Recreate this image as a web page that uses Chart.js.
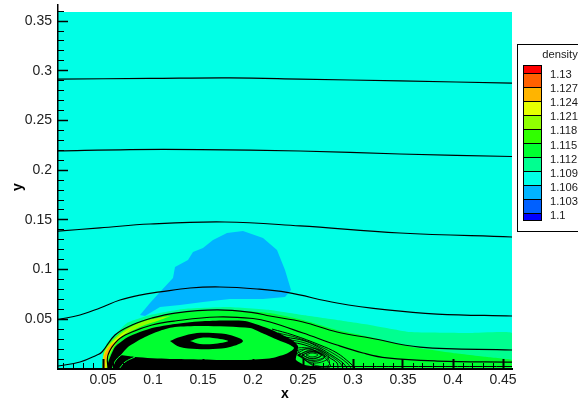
<!DOCTYPE html>
<html><head><meta charset="utf-8"><style>html,body{margin:0;padding:0;background:#fff}canvas{display:block}</style>
<script src="https://cdn.jsdelivr.net/npm/chart.js@4"></script></head><body><canvas id="c" width="578" height="403"></canvas>
<script>
const xTickValues=[0.05,0.1,0.15,0.2,0.25,0.3,0.35,0.4,0.45];
const yTickValues=[0.05,0.1,0.15,0.2,0.25,0.3,0.35];
const legendLabels=['1.13','1.127','1.124','1.121','1.118','1.115','1.112','1.109','1.106','1.103','1.1'];
const legendColors=['#ff0000','#ff6000','#ffb400','#e6ff00','#90ff00','#30ff00','#00ff30','#00ff90','#00ffe6','#00b4ff','#0060ff','#0000ff'];

// filled density regions (x, y)
const fieldX=[.005,.459,.459,.005,.005];
const fieldY=[0,0,.3591,.3591,0];
const blueX=[.087,.097,.107,.12,.122,.135,.14,.15,.16,.174,.19,.21,.224,.232,.238,.232,.21,.177,.15,.127,.107,.092,.087];
const blueY=[.0543,.0664,.0775,.0915,.1026,.1097,.1177,.1217,.1298,.1368,.1388,.1318,.1197,.0996,.0795,.0724,.0704,.0704,.0674,.0644,.0624,.0533,.0543];
const d1112X=[.05,.05,.054,.074,.097,.13,.174,.217,.25,.284,.317,.357,.417,.459,.459,.05];
const d1112Y=[0,.0171,.0262,.0463,.0543,.0604,.0624,.0594,.0543,.0493,.0443,.0372,.0362,.0362,0,0];
const d1115X=[.05,.051,.057,.074,.097,.13,.174,.217,.25,.284,.317,.359,.4,.434,.459,.459,.05];
const d1115Y=[0,.0171,.0272,.0423,.0513,.0573,.0594,.0563,.0493,.0392,.0322,.0221,.0161,.0121,.0091,0,0];
const d1118X=[.049,.051,.057,.072,.092,.117,.107,.087,.072,.062,.055,.055,.049];
const d1118Y=[0,.0171,.0262,.0392,.0483,.0533,.0493,.0423,.0342,.0241,.0091,0,0];
const d1121X=[.05,.051,.057,.067,.079,.069,.061,.054,.053,.05];
const d1121Y=[0,.0151,.0241,.0332,.0412,.0332,.0231,.0111,0,0];
const d1124X=[.05,.051,.055,.061,.057,.053,.052,.05];
const d1124Y=[0,.0131,.0211,.0272,.0191,.0111,0,0];
const denseX=[.055,.055,.062,.075,.099,.122,.152,.192,.219,.239,.245,.244,.243,.252,.277,.055];
const denseY=[0,.006,.0221,.0322,.0412,.0453,.0483,.0483,.0392,.0292,.0231,.0161,.0091,.004,0,0];
const coreX=[.068,.075,.092,.109,.122,.15,.197,.209,.225,.235,.241,.235,.219,.192,.117,.082,.068];
const coreY=[.0141,.0221,.0322,.0392,.0423,.0433,.0412,.0362,.0292,.0252,.0211,.0161,.0111,.0091,.0101,.0121,.0141];
const ringX=[.117,.127,.144,.16,.177,.19,.177,.16,.144,.127,.117];
const ringY=[.0282,.0322,.0362,.0362,.0342,.0282,.0221,.0201,.0201,.0221,.0282];
const eyeX=[.137,.147,.16,.175,.16,.147,.137];
const eyeY=[.0282,.0312,.0312,.0282,.0252,.0252,.0282];

// streamlines (x, y)
const s1X=[.005,.097,.177,.247,.347,.459], s1Y=[.2917,.2923,.2928,.2917,.2898,.2877];
const s2X=[.005,.077,.147,.247,.347,.459], s2Y=[.2193,.2208,.2208,.2193,.2163,.2138];
const s3X=[.005,.047,.097,.172,.247,.347,.459], s3Y=[.1388,.1419,.1459,.1479,.1439,.1368,.1328];
const s4X=[.005,.027,.047,.067,.087,.107,.137,.167,.204,.234,.284,.334,.384,.459];
const s4Y=[.0498,.0543,.0614,.0694,.0744,.0775,.0815,.0825,.0805,.077,.0664,.0594,.0553,.0533];
const s5X=[.005,.027,.044,.049,.062,.079,.099,.122,.164,.2,.217,.25,.284,.317,.367,.459];
const s5Y=[.003,.007,.0141,.0171,.0342,.0443,.0513,.0563,.0594,.0568,.0533,.0473,.0372,.0312,.0221,.0191];
const s6X=[.055,.055,.065,.079,.099,.122,.164,.2,.217,.25,.284,.31,.334,.384,.459];
const s6Y=[0,.0141,.0292,.0372,.0443,.0483,.0523,.0508,.0473,.0362,.0241,.0161,.0111,.008,.007];
const s7X=[.219,.24,.267,.284,.297,.302], s7Y=[.0402,.0342,.0241,.0161,.006,.001];
const s8X=[.232,.252,.267,.28,.29,.294], s8Y=[.0322,.0282,.0211,.0131,.006,.001];
const s9X=[.237,.252,.267,.277,.284,.285], s9Y=[.0272,.0241,.0181,.0111,.006,.001];
const s10X=[.225,.245,.267,.282,.294,.298], s10Y=[.0362,.0312,.0226,.0146,.006,.001];
const s11X=[.235,.252,.267,.279,.287,.29], s11Y=[.0297,.0262,.0196,.0121,.006,.001];
const wallX=[.25,.35,.459], wallY=[.0025,.0025,.0025];
const r1X=[.242,.255,.267,.274,.277,.259,.242], r1Y=[.0211,.0211,.0151,.0091,.002,.004,.0211];
const r2X=[.242,.259,.276,.261,.242], r2Y=[.0151,.0211,.0121,.006,.0151];
const r3X=[.245,.259,.272,.259,.245], r3Y=[.0141,.0191,.0131,.0086,.0141];
const r4X=[.249,.259,.269,.259,.249], r4Y=[.0141,.0176,.0141,.0106,.0141];
const r5X=[.253,.259,.265,.259,.253], r5Y=[.0141,.0161,.0141,.0121,.0141];
const r6X=[.241,.256,.27,.276,.275,.259,.241], r6Y=[.0181,.0201,.0141,.0091,.003,.005,.0181];
const r7X=[.245,.258,.272,.261,.245], r7Y=[.0141,.0181,.0126,.0076,.0141];
const r8X=[.249,.259,.268,.259,.249], r8Y=[.0141,.0171,.0136,.0101,.0141];
const cornerAX=[.059,.063,.072], cornerAY=[0,.009,.0171];
const cornerBX=[.066,.072,.082], cornerBY=[0,.007,.0121];

const pts=(xs,ys)=>xs.map((x,i)=>({x,y:ys[i]}));
const area=(xs,ys,color,tension=0.3)=>({data:pts(xs,ys),fill:'shape',backgroundColor:color,borderWidth:0,borderColor:color,tension,pointRadius:0});
const line=(xs,ys,width=1.2,color='#000')=>({data:pts(xs,ys),fill:false,borderColor:color,borderWidth:width,tension:0.4,pointRadius:0});

const layers=[
 area(fieldX,fieldY,'#00ffe6',0),
 area(blueX,blueY,'#00b4ff',0),
 area(d1112X,d1112Y,'#00ff90',0.12),
 area(d1115X,d1115Y,'#00ff30',0.12),
 area(d1118X,d1118Y,'#90ff00'),
 area(d1121X,d1121Y,'#e6ff00'),
 area(d1124X,d1124Y,'#ffb400'),
 area(denseX,denseY,'#000000',0.2),
 area(coreX,coreY,'#00ff30',0.25),
 area(ringX,ringY,'#000000',0.35),
 area(eyeX,eyeY,'#00ff30',0.35),
 line(cornerAX,cornerAY,1,'#00ff30'),line(cornerBX,cornerBY,1,'#00ff30'),
 line(s1X,s1Y),line(s2X,s2Y),line(s3X,s3Y),line(s4X,s4Y),line(s5X,s5Y),line(s6X,s6Y),
 line(s7X,s7Y,1),line(s8X,s8Y,1),line(s9X,s9Y,1),line(s10X,s10Y,.8),line(s11X,s11Y,.8),line(wallX,wallY,1),
 line(r1X,r1Y,.8),line(r2X,r2Y,.8),line(r3X,r3Y,.8),line(r4X,r4Y,.8),line(r5X,r5Y,.8),
 line(r6X,r6Y,.8),line(r7X,r7Y,.8),line(r8X,r8Y,.8)
];
layers.forEach((d,i)=>{d.order=layers.length-i;});

const densityLegend={id:'densityLegend',afterDraw(chart){
 const c=chart.ctx;c.save();
 c.fillStyle='#fff';c.fillRect(517,44,61,188);
 c.strokeStyle='#000';c.lineWidth=1;c.strokeRect(517.5,44.5,70,187);
 const bounds=[65,73,87,101,115,129,143,157,171,185,199,213,220];
 legendColors.forEach((col,i)=>{
  c.fillStyle=col;c.fillRect(523.5,bounds[i]+.5,18,bounds[i+1]-bounds[i]);
  c.strokeRect(523.5,bounds[i]+.5,18,bounds[i+1]-bounds[i]);
 });
 c.fillStyle='#1a1a1a';c.font='11.2px "Liberation Sans"';c.textBaseline='middle';
 c.textAlign='center';c.fillText('density',560,55);
 c.textAlign='left';
 legendLabels.forEach((t,i)=>c.fillText(t,550,75+14.1*i));
 c.restore();
}};
const fix=v=>axis=>{axis.ticks=v.map(value=>({value}));};
const tickFont={family:'"Liberation Sans"',size:14};
const titleFont={family:'"Liberation Sans"',size:14,weight:'bold'};
new Chart(document.getElementById('c'),{
 type:'line',
 data:{datasets:layers},
 plugins:[densityLegend],
 options:{
  responsive:false,animation:false,devicePixelRatio:1,
  layout:{padding:{top:5,right:66,left:0,bottom:0}},
  plugins:{legend:{display:false},tooltip:{enabled:false},title:{display:false}},
  scales:{
   x:{type:'linear',position:'bottom',min:.005,max:.459,afterBuildTicks:fix(xTickValues),afterFit(s){s.height=34;s.paddingLeft=0;s.paddingRight=0;},
    grid:{drawOnChartArea:false,tickLength:-10,tickColor:'#000',tickWidth:2,z:2},
    border:{display:true,color:'#000',width:2,z:2},
    ticks:{color:'#222',font:tickFont,padding:13,maxRotation:0,autoSkip:false,callback:v=>String(v)},
    title:{display:true,text:'x',color:'#000',font:titleFont,padding:{top:2,bottom:0}}},
   y:{type:'linear',position:'left',min:0,max:.3662,afterBuildTicks:fix(yTickValues),afterFit(s){s.width=58;s.paddingTop=0;s.paddingBottom=0;},
    grid:{drawOnChartArea:false,tickLength:-10,tickColor:'#000',tickWidth:1.5,z:2},
    border:{display:true,color:'#000',width:1.5,z:2},
    ticks:{color:'#222',font:tickFont,padding:16,autoSkip:false,callback:v=>String(v)},
    title:{display:true,text:'y',color:'#000',font:titleFont,padding:{top:10,bottom:0}}},
   xMinor:{axis:'x',type:'linear',position:{y:0},min:.005,max:.459,afterFit(s){s.paddingLeft=0;s.paddingRight=0;},
    grid:{drawOnChartArea:false,tickLength:-6,tickColor:'#000',tickWidth:1,z:1},
    border:{display:false},ticks:{display:false,stepSize:.01,autoSkip:false,includeBounds:false}},
   yMinor:{axis:'y',type:'linear',position:{x:.005},min:0,max:.3662,afterFit(s){s.paddingTop=0;s.paddingBottom=0;},
    grid:{drawOnChartArea:false,tickLength:-6,tickColor:'#000',tickWidth:1,z:1},
    border:{display:false},ticks:{display:false,stepSize:.01,autoSkip:false,includeBounds:false}}
  }
 }
});
</script></body></html>
